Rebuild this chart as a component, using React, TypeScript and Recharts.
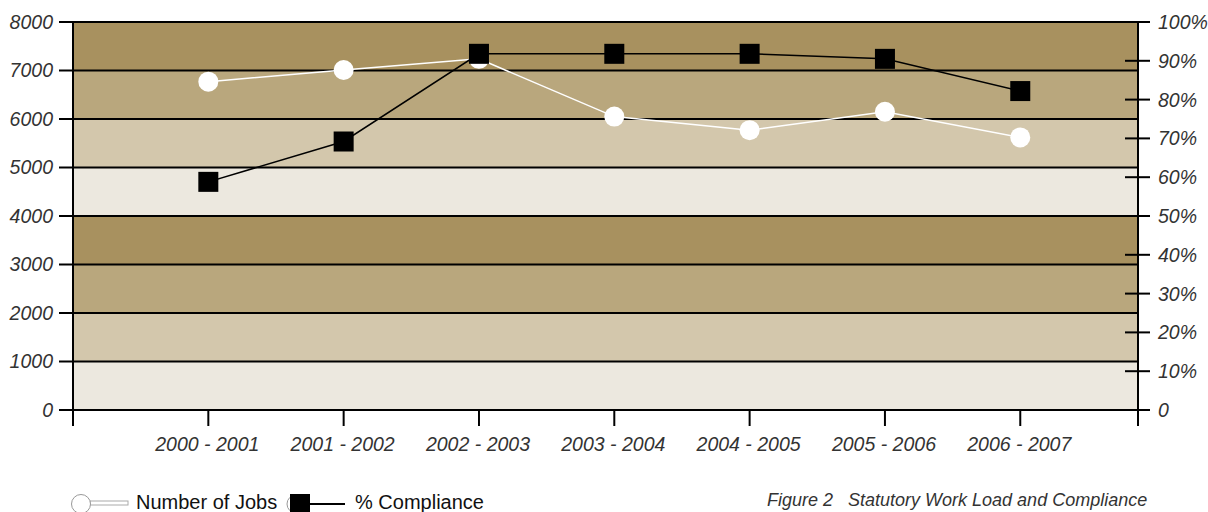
import React from "react";
import {
  LineChart,
  Line,
  XAxis,
  YAxis,
  CartesianGrid,
} from "recharts";

const periods = [
  "2000 - 2001",
  "2001 - 2002",
  "2002 - 2003",
  "2003 - 2004",
  "2004 - 2005",
  "2005 - 2006",
  "2006 - 2007",
];
const jobs = [6770, 7010, 7240, 6050, 5770, 6150, 5620];
const compliance = [58.8, 69.2, 91.8, 91.8, 91.8, 90.5, 82.2];
const jobTicks = [0, 1000, 2000, 3000, 4000, 5000, 6000, 7000, 8000];
const pctTicks = [0, 10, 20, 30, 40, 50, 60, 70, 80, 90, 100];
const xTicks = [0, 1, 2, 3, 4, 5, 6, 7, 7.87];

const data = periods.map((p, i) => ({
  x: i + 1,
  period: p,
  jobs: jobs[i],
  compliance: compliance[i],
}));

const FONT = "'Liberation Sans', Arial, Helvetica, sans-serif";
const TEXT = "#333333";
const bands = ["#A8915F", "#B9A77D", "#D3C7AC", "#ECE8DF"];

const XTick = (props: any) => {
  const { x, y, payload } = props;
  const v = payload.value;
  if (!Number.isInteger(v) || v < 1 || v > periods.length) return null;
  return (
    <text
      x={x - 1}
      y={y}
      dy={25}
      textAnchor="middle"
      fill={TEXT}
      fontSize={19.5}
      fontStyle="italic"
      fontFamily={FONT}
    >
      {periods[v - 1]}
    </text>
  );
};

const RightTick = (props: any) => {
  const { x, y, payload } = props;
  const v = payload.value;
  return (
    <g>
      <line x1={x - 13} x2={x + 12} y1={y} y2={y} stroke="#000" strokeWidth={2} />
      <text
        x={x + 20}
        y={y}
        dy="0.36em"
        textAnchor="start"
        fill={TEXT}
        fontSize={19.5}
        fontStyle="italic"
        fontFamily={FONT}
      >
        {v === 0 ? "0" : `${v}%`}
      </text>
    </g>
  );
};

const SquareDot = (props: any) => {
  const { cx, cy } = props;
  if (cx == null || cy == null) return null;
  return <rect x={cx - 10} y={cy - 10} width={20} height={20} fill="#000" />;
};

const CircleDot = (props: any) => {
  const { cx, cy } = props;
  if (cx == null || cy == null) return null;
  return <circle cx={cx} cy={cy} r={10} fill="#fff" />;
};

export default function App() {
  return (
    <div
      style={{
        position: "fixed",
        top: 0,
        left: 0,
        width: 1208,
        height: 512,
        overflow: "hidden",
        background: "#fff",
      }}
    >
      <LineChart
        width={1208}
        height={512}
        data={data}
        margin={{ top: 22, right: 0, bottom: 0, left: 0 }}
      >
        <CartesianGrid
          yAxisId="left"
          vertical={false}
          stroke="#000"
          strokeWidth={2}
          horizontalFill={bands}
          fillOpacity={1}
        />
        <XAxis
          dataKey="x"
          type="number"
          domain={[0, 7.87]}
          ticks={xTicks}
          interval={0}
          height={102}
          axisLine={{ stroke: "#000", strokeWidth: 2 }}
          tickLine={{ stroke: "#000", strokeWidth: 2 }}
          tickSize={16}
          tickMargin={0}
          tick={<XTick />}
        />
        <YAxis
          yAxisId="left"
          orientation="left"
          width={73}
          domain={[0, 8000]}
          ticks={jobTicks}
          interval={0}
          axisLine={{ stroke: "#000", strokeWidth: 2 }}
          tickLine={{ stroke: "#000", strokeWidth: 2 }}
          tickSize={14}
          tickMargin={6}
          tick={{
            fill: TEXT,
            fontSize: 19.5,
            fontStyle: "italic",
            fontFamily: FONT,
          }}
        />
        <YAxis
          yAxisId="right"
          orientation="right"
          width={70}
          domain={[0, 100]}
          ticks={pctTicks}
          interval={0}
          axisLine={{ stroke: "#000", strokeWidth: 2 }}
          tickLine={false}
          tickSize={0}
          tickMargin={0}
          tick={<RightTick />}
        />
        <Line
          yAxisId="left"
          type="linear"
          dataKey="jobs"
          stroke="#fff"
          strokeWidth={1.5}
          dot={<CircleDot />}
          activeDot={false}
          isAnimationActive={false}
        />
        <Line
          yAxisId="right"
          type="linear"
          dataKey="compliance"
          stroke="#000"
          strokeWidth={1.5}
          dot={<SquareDot />}
          activeDot={false}
          isAnimationActive={false}
        />
      </LineChart>

      <svg
        width={1208}
        height={50}
        style={{ position: "absolute", left: 0, top: 462 }}
      >
        <rect x={90} y={39} width={38} height={4} fill="#fff" stroke="#aaa" strokeWidth={1} />
        <circle cx={81} cy={42} r={9.5} fill="#fff" stroke="#999" strokeWidth={1} />
        <text x={136} y={47} fontSize={20} fill="#111" fontFamily={FONT}>
          Number of Jobs
        </text>
        <circle cx={296} cy={42} r={9} fill="#fff" stroke="#999" strokeWidth={1} />
        <line x1={305} x2={345} y1={42} y2={42} stroke="#000" strokeWidth={2} />
        <rect x={290} y={32} width={20} height={20} fill="#000" />
        <text x={355} y={47} fontSize={20} fill="#111" fontFamily={FONT}>
          % Compliance
        </text>
        <text
          x={767}
          y={44}
          fontSize={18}
          fontStyle="italic"
          fill={TEXT}
          fontFamily={FONT}
          style={{ whiteSpace: "pre" }}
        >
          {"Figure 2   Statutory Work Load and Compliance"}
        </text>
      </svg>
    </div>
  );
}
